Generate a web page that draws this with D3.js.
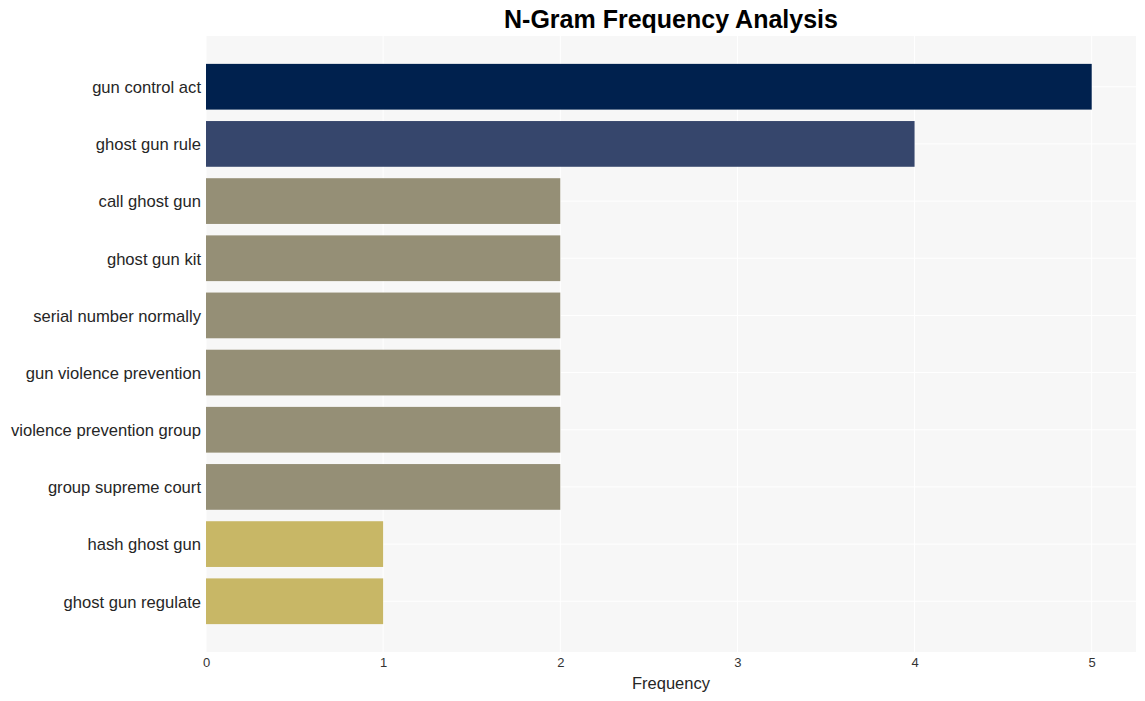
<!DOCTYPE html>
<html>
<head>
<meta charset="utf-8">
<script src="https://cdn.jsdelivr.net/npm/d3@7"></script>
<style>
  body { margin: 0; background: #fff; }
  svg { display: block; font-family: "Liberation Sans", Arial, sans-serif; }
</style>
</head>
<body>
<div id="chart"></div>
<script>
// n-gram labels, top to bottom
const ngrams = [
    "gun control act",
    "ghost gun rule",
    "call ghost gun",
    "ghost gun kit",
    "serial number normally",
    "gun violence prevention",
    "violence prevention group",
    "group supreme court",
    "hash ghost gun",
    "ghost gun regulate"
];
const counts = [5, 4, 2, 2, 2, 2, 2, 2, 1, 1];
const barColors = ["#00214e", "#36466c", "#958f76", "#958f76", "#958f76", "#958f76", "#958f76", "#958f76", "#c8b766", "#c8b766"];
const xTicks = [0, 1, 2, 3, 4, 5];

const width = 1145, height = 701;
const margin = {top: 36, right: 9, bottom: 49, left: 206};

const svg = d3.select("#chart").append("svg")
    .attr("width", width)
    .attr("height", height);

const x = d3.scaleLinear()
    .domain([0, 5.25])
    .range([margin.left, width - margin.right]);

const y = d3.scaleBand()
    .domain(ngrams)
    .range([margin.top, height - margin.bottom])
    .paddingInner(0.2)
    .paddingOuter(0.4875);

// plot background
svg.append("rect")
    .attr("x", margin.left)
    .attr("y", margin.top)
    .attr("width", width - margin.left - margin.right)
    .attr("height", height - margin.top - margin.bottom)
    .attr("fill", "#f7f7f7");

// vertical grid
svg.append("g")
    .selectAll("line")
    .data(xTicks)
    .join("line")
    .attr("x1", d => x(d))
    .attr("x2", d => x(d))
    .attr("y1", margin.top)
    .attr("y2", height - margin.bottom)
    .attr("stroke", "#ffffff")
    .attr("stroke-width", 1);

// horizontal grid at bar centres
svg.append("g")
    .selectAll("line")
    .data(ngrams)
    .join("line")
    .attr("x1", margin.left)
    .attr("x2", width - margin.right)
    .attr("y1", d => y(d) + y.bandwidth() / 2)
    .attr("y2", d => y(d) + y.bandwidth() / 2)
    .attr("stroke", "#ffffff")
    .attr("stroke-width", 1);

// bars
svg.append("g")
    .selectAll("rect")
    .data(ngrams)
    .join("rect")
    .attr("x", x(0))
    .attr("y", d => y(d))
    .attr("width", (d, i) => x(counts[i]) - x(0))
    .attr("height", y.bandwidth())
    .attr("fill", (d, i) => barColors[i]);

// x axis
const xAxis = svg.append("g")
    .attr("transform", `translate(0,${height - margin.bottom})`)
    .call(d3.axisBottom(x).tickValues(xTicks).tickFormat(d3.format("d")).tickSize(0).tickPadding(6));
xAxis.select(".domain").remove();
xAxis.selectAll("text")
    .attr("font-size", 13)
    .attr("font-family", "Liberation Sans, Arial, sans-serif")
    .attr("fill", "#333");

// y axis
const yAxis = svg.append("g")
    .attr("transform", `translate(${margin.left},0)`)
    .call(d3.axisLeft(y).tickSize(0).tickPadding(5));
yAxis.select(".domain").remove();
yAxis.selectAll("text")
    .attr("font-size", 16.6)
    .attr("dy", "0.38em")
    .attr("font-family", "Liberation Sans, Arial, sans-serif")
    .attr("fill", "#262626");

// axis title
svg.append("text")
    .attr("x", (margin.left + width - margin.right) / 2)
    .attr("y", 689)
    .attr("text-anchor", "middle")
    .attr("font-size", 16.5)
    .attr("fill", "#262626")
    .text("Frequency");

// chart title
svg.append("text")
    .attr("x", (margin.left + width - margin.right) / 2)
    .attr("y", 28)
    .attr("text-anchor", "middle")
    .attr("font-size", 25)
    .attr("font-weight", "bold")
    .attr("fill", "#000")
    .text("N-Gram Frequency Analysis");
</script>
</body>
</html>
